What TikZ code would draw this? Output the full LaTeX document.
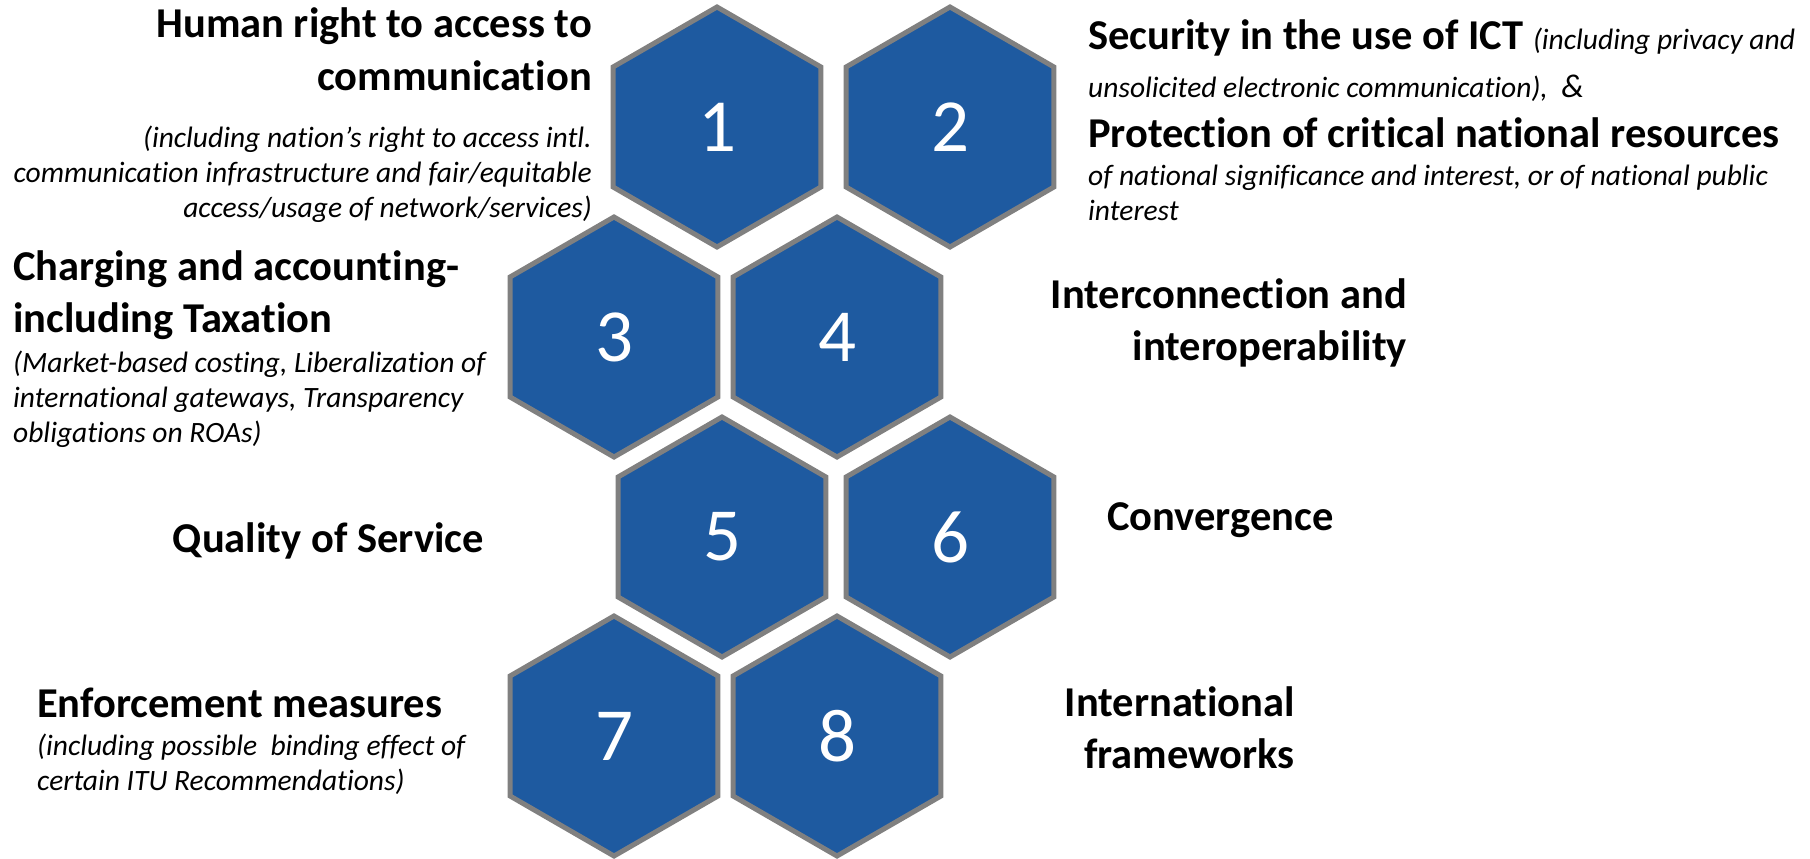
\documentclass[tikz,border=0pt]{standalone}
\usepackage{fontspec}
\setmainfont{Carlito}[Ligatures=NoCommon]
\usetikzlibrary{shapes.geometric}

\definecolor{hexblue}{RGB}{30,90,160}
\definecolor{hexgray}{RGB}{128,128,128}

\tikzset{
  hexcell/.style={regular polygon, regular polygon sides=6, shape border rotate=30,
    minimum size=240pt, inner sep=0pt, fill=hexblue, draw=hexgray, line width=5pt,
    text=white, font=\fontsize{75}{80}\selectfont},
  headtext/.style={font=\bfseries\fontsize{42.5}{52}\selectfont, inner sep=0pt},
  subtext/.style={font=\itshape\fontsize{29.5}{35}\selectfont, inner sep=0pt}
}

\begin{document}
\begin{tikzpicture}[x=1pt, y=-1pt]
    \useasboundingbox (0,0) rectangle (1810,859);

    % the eight cells
    \foreach \n/\cx/\cy in {1/717/127, 2/950/127, 3/614/337, 4/837/337,
                            5/722/537, 6/950/537, 7/614/736, 8/837/736}
        \node [hexcell] (hex\n) at (\cx,\cy) {\n};

    % left column (base = last line)
    \node [headtext, align=right, anchor=base east] (humanhead) at (592,90)
        {Human right to access to\\communication};
    \node [subtext, align=right, anchor=base east] (humansub) at (592,217)
        {(including nation’s right to access intl.\\communication infrastructure and fair/equitable\\access/usage of network/services)};

    \node [headtext, align=left, anchor=base west] (charghead) at (13,332)
        {Charging and accounting-\\including Taxation};
    \node [subtext, align=left, anchor=base west] (chargsub) at (13,442)
        {(Market-based costing, Liberalization of\\international gateways, Transparency\\obligations on ROAs)};

    \node [headtext, anchor=base east] (qoshead) at (484,552) {Quality of Service};

    \node [headtext, anchor=base west] (enfhead) at (37,717) {Enforcement measures};
    \node [subtext, align=left, anchor=base west] (enfsub) at (37,790)
        {(including possible\ \ binding effect of\\certain ITU Recommendations)};

    % right column
    \node [headtext, anchor=base west] (sechead) at (1088,50)
        {Security in the use of ICT {\mdseries\itshape\fontsize{29.5}{35}\selectfont (including privacy and}};
    \node [subtext, anchor=base west] (secsub) at (1088,97)
        {unsolicited electronic communication),\ \ {\fontsize{33}{35}\selectfont\&}};
    \node [headtext, anchor=base west] (prothead) at (1088,147)
        {Protection of critical national resources};
    \node [subtext, align=left, anchor=base west] (protsub) at (1088,220)
        {of national significance and interest, or of national public\\interest};

    \node [headtext, align=right, anchor=base east] (interhead) at (1407,360)
        {Interconnection and\\interoperability};

    \node [headtext, anchor=base west] (convhead) at (1107,530) {Convergence};

    \node [headtext, align=right, anchor=base east] (intlhead) at (1295,768)
        {International\\frameworks};
\end{tikzpicture}
\end{document}
